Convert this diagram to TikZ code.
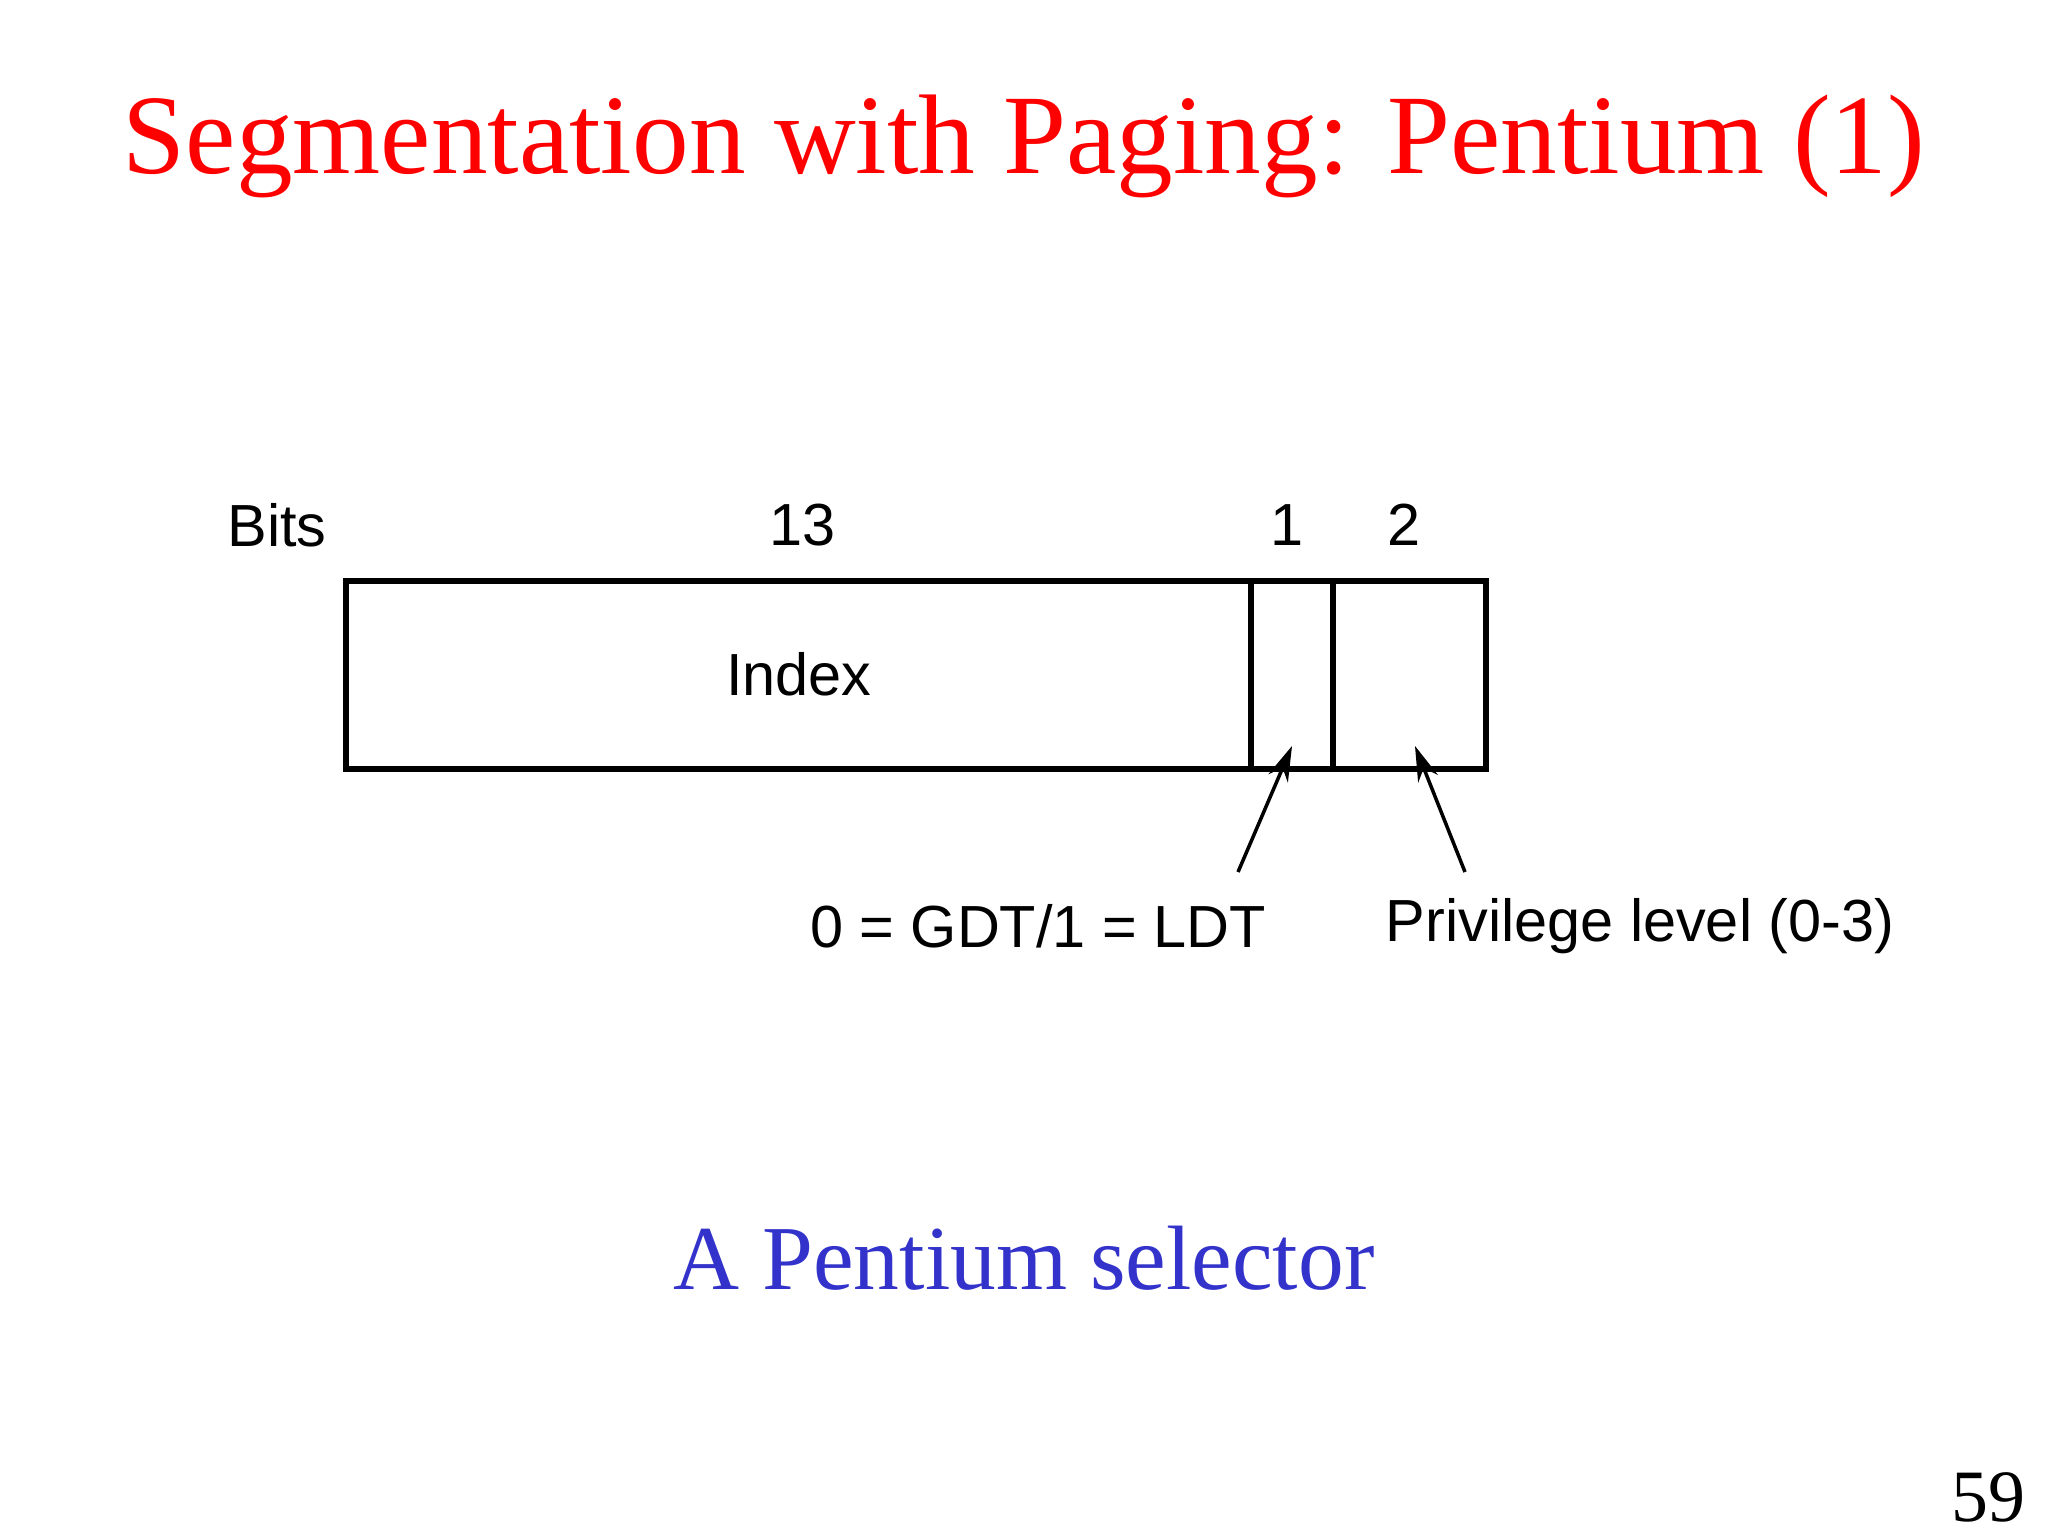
\documentclass[tikz,border=0pt]{standalone}
\usepackage{fontspec}
\setmainfont{Liberation Serif}
\setsansfont{Liberation Sans}
\usetikzlibrary{arrows.meta}
\begin{document}
\begin{tikzpicture}[x=0.01cm,y=-0.01cm,
  lbl/.style={font=\sffamily\fontsize{16.9}{19}\selectfont,inner sep=0pt},
  field/.style={draw,line width=1.6pt},
  ptr/.style={line width=1pt,-{Stealth[length=10pt,width=6pt]}}]
\useasboundingbox[fill=white] (0,0) rectangle (2048,1536);
\node[text=red,font=\fontsize{32.2}{37}\selectfont] (title) at (1024,146) {Segmentation with Paging: Pentium (1)};
\draw[field] (346,581) rectangle (1486,769);
\draw[field] (1251,581) -- (1251,769);
\draw[field] (1333,581) -- (1333,769);
\node[lbl] (bits) at (277,525) {Bits};
\node[lbl] (n13) at (803,525) {13};
\node[lbl] (n1) at (1287,525) {1};
\node[lbl] (n2) at (1404,525) {2};
\node[lbl] (index) at (799,674) {Index};
\node[lbl] (gdt) at (1038,926) {0 = GDT/1 = LDT};
\node[lbl] (priv) at (1640,926) {Privilege level (0-3)};
\coordinate (a1s) at (1238,872);
\coordinate (a1e) at (1292,746);
\coordinate (a2s) at (1465,872);
\coordinate (a2e) at (1415,746);
\draw[ptr] (a1s) -- (a1e);
\draw[ptr] (a2s) -- (a2e);
\node[text={rgb,255:red,51;green,51;blue,204},font=\fontsize{26}{30}\selectfont] (cap) at (1024,1258) {A Pentium selector};
\node[font=\fontsize{21}{24}\selectfont] (pg) at (1988,1497) {59};
\end{tikzpicture}
\end{document}
